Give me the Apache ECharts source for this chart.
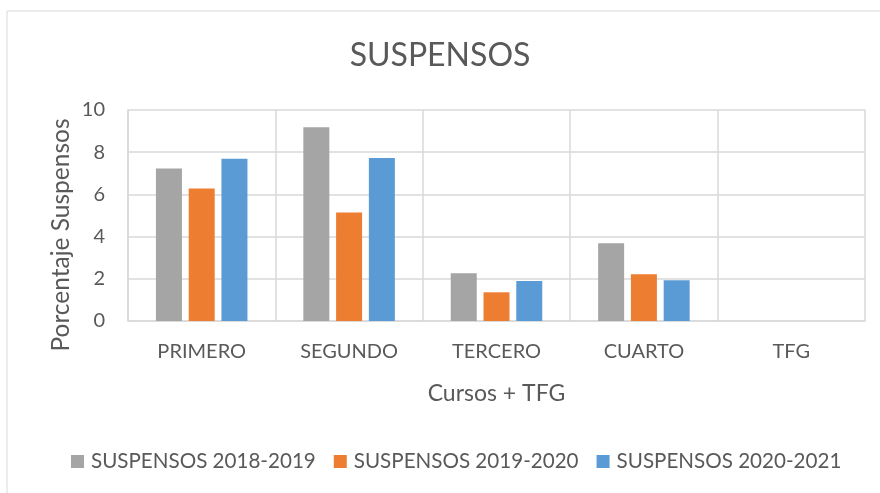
<!DOCTYPE html>
<html>
<head>
    <meta charset="utf-8">
    <title>SUSPENSOS</title>
    <style>
        body { margin: 0; background: #fff; }
        #chart { width: 880px; height: 493px; }
    </style>
</head>
<body>
<div id="chart"></div>
<script src="https://cdn.jsdelivr.net/npm/echarts@6/dist/echarts.min.js"></script>
<script>
    var cursos = ['PRIMERO', 'SEGUNDO', 'TERCERO', 'CUARTO', 'TFG'];
    var seriesNames = ['SUSPENSOS 2018-2019', 'SUSPENSOS 2019-2020', 'SUSPENSOS 2020-2021'];
    var susp1819 = [7.23, 9.18, 2.26, 3.69, 0];
    var susp1920 = [6.28, 5.14, 1.36, 2.22, 0];
    var susp2021 = [7.69, 7.72, 1.90, 1.93, 0];
    var colores = ['#a5a5a5', '#ed7d31', '#5b9bd5'];

    var fuente = 'Lato';
    var gris = '#595959';

    var chart = echarts.init(document.getElementById('chart'));

    function serie(i, datos) {
        return {
            name: seriesNames[i],
            type: 'bar',
            data: datos,
            barWidth: 26,
            barGap: '26%',
            itemStyle: { color: colores[i] }
        };
    }

    chart.setOption({
        animation: false,
        textStyle: { fontFamily: fuente },
        title: {
            text: 'SUSPENSOS',
            left: 'center',
            top: 35,
            textStyle: { fontFamily: fuente, fontSize: 32, fontWeight: 'normal', color: gris }
        },
        legend: {
            bottom: 16,
            left: 66,
            itemWidth: 13,
            itemHeight: 13,
            itemGap: 18,
            icon: 'rect',
            textStyle: { fontFamily: fuente, fontSize: 20.6, color: gris, padding: [0, 0, 0, 2] }
        },
        graphic: [{
            type: 'rect',
            shape: { x: 7, y: 11, width: 900, height: 500 },
            style: { fill: 'none', stroke: '#d9d9d9', lineWidth: 1 },
            silent: true
        }, {
            // título del eje Y (Excel lo coloca algo más abajo que el centro del área)
            type: 'text',
            x: 61,
            y: 235,
            rotation: Math.PI / 2,
            style: {
                text: 'Porcentaje Suspensos',
                fontFamily: fuente,
                fontSize: 24.5,
                fill: gris,
                align: 'center',
                verticalAlign: 'middle'
            },
            silent: true
        }],
        grid: {
            left: 128,
            right: 15,
            top: 110,
            bottom: 172
        },
        xAxis: {
            type: 'category',
            data: cursos,
            name: 'Cursos + TFG',
            nameLocation: 'middle',
            nameGap: 61,
            nameTextStyle: { fontFamily: fuente, fontSize: 23, color: gris },
            axisLine: { lineStyle: { color: '#d9d9d9', width: 1.5 } },
            axisTick: { show: false },
            axisLabel: { fontSize: 20, color: gris, margin: 21 },
            splitLine: { show: true, lineStyle: { color: '#d9d9d9', width: 1.5 } }
        },
        yAxis: {
            type: 'value',
            min: 0,
            max: 10,
            interval: 2,
            axisLine: { show: true, lineStyle: { color: '#d9d9d9', width: 1.5 } },
            axisTick: { show: false },
            axisLabel: { fontSize: 20, color: gris, margin: 23 },
            splitLine: { lineStyle: { color: '#d9d9d9', width: 1.5 } }
        },
        series: [
            serie(0, susp1819),
            serie(1, susp1920),
            serie(2, susp2021)
        ]
    });
</script>
</body>
</html>
